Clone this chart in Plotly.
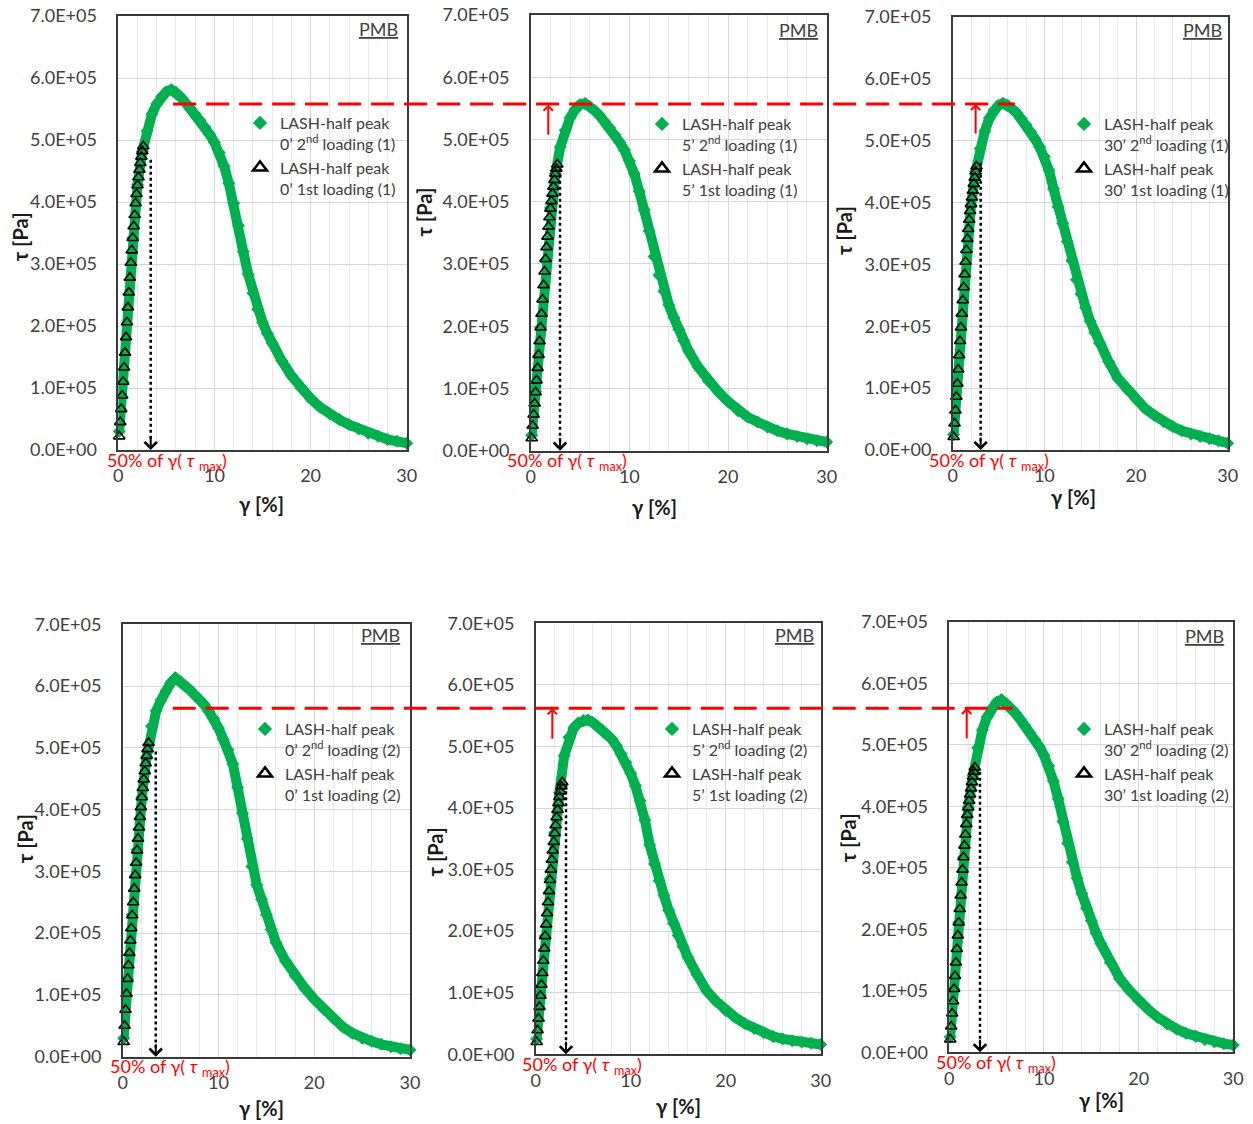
import plotly.graph_objects as go

# ---------------- data (tau values in units of 1E+05 Pa) ----------------
gamma_tick_step = 10
tau_tickvals = [0, 1e5, 2e5, 3e5, 4e5, 5e5, 6e5, 7e5]
tau_ticktext = ["0.0E+00", "1.0E+05", "2.0E+05", "3.0E+05", "4.0E+05", "5.0E+05", "6.0E+05", "7.0E+05"]

rest_times = ["0’", "5’", "30’", "0’", "5’", "30’"]
test_ids = ["(1)", "(1)", "(1)", "(2)", "(2)", "(2)"]

# 2nd loading (green diamonds): gamma [%]
g2_common = [0.1, 0.5, 1.0, 1.5, 2.0, 2.5, 3.0, 3.5, 4.0, 4.5, 5.0, 5.5, 6.0, 6.5, 7.0, 7.5,
             8.0, 8.5, 9.0, 9.5, 10.0, 10.5, 11.0, 11.5, 12.0, 12.5, 13.0, 13.5, 14.0, 14.5,
             15.0, 15.5, 16.0, 17.0, 18.0, 19.0, 20.0, 21.0, 22.0, 23.0, 24.0, 25.0, 26.0,
             27.0, 28.0, 29.0, 30.0]
p1_2nd_tau = [0.30, 1.10, 2.28, 3.42, 4.28, 4.82, 5.15, 5.42, 5.58, 5.70, 5.78, 5.81, 5.77, 5.69,
              5.60, 5.51, 5.42, 5.32, 5.21, 5.09, 4.96, 4.80, 4.58, 4.30, 3.98, 3.62, 3.20, 2.84,
              2.53, 2.27, 2.06, 1.88, 1.72, 1.44, 1.20, 1.00, 0.83, 0.69, 0.58, 0.49, 0.41, 0.34,
              0.27, 0.22, 0.17, 0.14, 0.11]
p2_2nd_tau = [0.25, 0.95, 1.98, 3.05, 3.90, 4.45, 4.88, 5.15, 5.35, 5.48, 5.56, 5.58, 5.53, 5.46,
              5.38, 5.29, 5.19, 5.08, 4.96, 4.83, 4.66, 4.45, 4.17, 3.87, 3.53, 3.12, 2.82, 2.56,
              2.34, 2.14, 1.95, 1.77, 1.60, 1.34, 1.12, 0.95, 0.79, 0.64, 0.54, 0.46, 0.38, 0.32,
              0.27, 0.23, 0.19, 0.16, 0.14]
p3_2nd_tau = [0.25, 1.05, 2.18, 3.20, 3.95, 4.50, 4.87, 5.15, 5.36, 5.49, 5.57, 5.60, 5.57, 5.51,
              5.44, 5.35, 5.25, 5.14, 5.02, 4.89, 4.74, 4.52, 4.22, 3.93, 3.66, 3.37, 3.06, 2.75,
              2.52, 2.30, 2.08, 1.90, 1.73, 1.43, 1.16, 0.98, 0.82, 0.67, 0.56, 0.46, 0.38, 0.31,
              0.26, 0.22, 0.18, 0.15, 0.11]
p4_2nd_tau = [0.30, 1.25, 2.30, 3.35, 4.20, 4.85, 5.35, 5.60, 5.77, 5.92, 6.05, 6.13, 6.08, 6.01,
              5.94, 5.86, 5.79, 5.70, 5.59, 5.47, 5.32, 5.14, 4.97, 4.74, 4.36, 3.94, 3.53, 3.08,
              2.78, 2.55, 2.30, 2.06, 1.85, 1.55, 1.31, 1.11, 0.93, 0.77, 0.62, 0.48, 0.38, 0.30,
              0.25, 0.20, 0.16, 0.13, 0.11]
p5_2nd_tau = [0.25, 0.95, 1.92, 2.85, 3.60, 4.25, 4.85, 5.15, 5.30, 5.38, 5.42, 5.43, 5.39, 5.33,
              5.27, 5.20, 5.12, 5.01, 4.88, 4.74, 4.56, 4.36, 4.12, 3.80, 3.40, 3.09, 2.82, 2.58,
              2.34, 2.13, 1.93, 1.75, 1.58, 1.29, 1.03, 0.86, 0.71, 0.60, 0.50, 0.42, 0.35, 0.29,
              0.25, 0.22, 0.20, 0.18, 0.16]
p6_2nd_tau = [0.25, 1.03, 2.11, 3.17, 3.98, 4.50, 4.95, 5.24, 5.45, 5.59, 5.69, 5.73, 5.67, 5.60,
              5.51, 5.41, 5.31, 5.20, 5.09, 4.97, 4.83, 4.66, 4.41, 4.12, 3.75, 3.40, 3.09, 2.83,
              2.58, 2.34, 2.14, 1.94, 1.77, 1.46, 1.20, 1.01, 0.84, 0.70, 0.57, 0.46, 0.38, 0.31,
              0.26, 0.21, 0.17, 0.14, 0.12]

# 1st loading (open triangles)
g1_26 = [0.1, 0.2, 0.3, 0.4, 0.5, 0.6, 0.7, 0.8, 0.9, 1.0, 1.1, 1.2, 1.3, 1.4, 1.5, 1.6, 1.7,
         1.8, 1.9, 2.0, 2.1, 2.2, 2.3, 2.4, 2.5, 2.6]
g1_27 = g1_26 + [2.7]
g1_28 = g1_27 + [2.8]
p1_1st_tau = [0.22, 0.45, 0.66, 0.88, 1.10, 1.33, 1.57, 1.82, 2.06, 2.30, 2.54, 2.78, 3.02, 3.22,
              3.42, 3.61, 3.79, 3.98, 4.13, 4.27, 4.40, 4.52, 4.63, 4.73, 4.82, 4.90]
p2_1st_tau = [0.20, 0.40, 0.58, 0.76, 0.94, 1.13, 1.33, 1.54, 1.76, 1.98, 2.20, 2.43, 2.66, 2.88,
              3.08, 3.27, 3.44, 3.60, 3.75, 3.89, 4.01, 4.13, 4.24, 4.35, 4.45, 4.53, 4.60]
p3_1st_tau = [0.21, 0.43, 0.64, 0.86, 1.07, 1.30, 1.53, 1.76, 1.98, 2.20, 2.42, 2.63, 2.84, 3.04,
              3.23, 3.41, 3.57, 3.72, 3.86, 3.97, 4.08, 4.19, 4.30, 4.40, 4.50, 4.58]
p4_1st_tau = [0.24, 0.50, 0.76, 1.02, 1.26, 1.48, 1.68, 1.88, 2.08, 2.29, 2.50, 2.72, 2.94, 3.14,
              3.34, 3.53, 3.71, 3.88, 4.04, 4.20, 4.35, 4.49, 4.62, 4.75, 4.87, 4.98, 5.08]
p5_1st_tau = [0.20, 0.39, 0.58, 0.77, 0.95, 1.13, 1.32, 1.52, 1.72, 1.92, 2.11, 2.29, 2.47, 2.65,
              2.83, 3.00, 3.16, 3.31, 3.45, 3.59, 3.72, 3.85, 3.97, 4.08, 4.18, 4.27, 4.35, 4.42]
p6_1st_tau = [0.21, 0.42, 0.63, 0.83, 1.03, 1.24, 1.46, 1.68, 1.90, 2.11, 2.33, 2.55, 2.76, 2.97,
              3.17, 3.36, 3.54, 3.71, 3.86, 3.98, 4.09, 4.19, 4.29, 4.39, 4.48, 4.56, 4.63]

# 50% of gamma(tau_max): dotted arrow gamma and its top tau (1E+05 Pa)
half_gamma = [3.37, 2.97, 3.05, 3.45, 3.19, 3.24]
half_top_tau = [4.68, 4.53, 4.64, 4.94, 4.37, 4.56]
# reference tau_max level of 0' (dashed red line), 1E+05 Pa
ref_level_tau = [5.58, 5.64]
# red upward arrows (panels 2,3,5,6): gamma, start tau, tip tau
rise_gamma = [None, 1.78, 2.5, None, 1.75, 1.84]
rise_from_tau = [None, 5.05, 5.09, None, 5.10, 5.08]
rise_to_tau = [None, 5.56, 5.59, None, 5.62, 5.60]

# ---------------- assembly ----------------
panel_g2 = [g2_common] * 6
panel_t2 = [p1_2nd_tau, p2_2nd_tau, p3_2nd_tau, p4_2nd_tau, p5_2nd_tau, p6_2nd_tau]
panel_g1 = [g1_26, g1_27, g1_26, g1_27, g1_28, g1_27]
panel_t1 = [p1_1st_tau, p2_1st_tau, p3_1st_tau, p4_1st_tau, p5_1st_tau, p6_1st_tau]

W, H = 1253, 1124
OFF = 8  # default page margin of the html body
FONT = "Lato, 'Open Sans', 'DejaVu Sans', sans-serif"
GREEN = "#00B050"
TXT = "#404040"

# plot-area boxes in page pixels: left, right, top, bottom
boxes = [(118.3, 406.7, 16.0, 450.0), (530.7, 826.7, 15.0, 450.7), (952.7, 1227.7, 16.7, 450.0),
         (122.7, 410.0, 624.3, 1056.7), (535.7, 820.7, 623.3, 1054.3), (949.3, 1233.3, 621.7, 1052.3)]
ytitle_dx = [98, 107, 108, 98, 101, 101]
ytitle_dy = [4, -21, -3, -2, 13, 1]
xtitle_dx = [-1, -24, -17, -5, 0, 10]
xtitle_dy = [54, 56, 47, 51, 52, 48]
pmb_dx = [28, 28, 25, 30, 26, 29]
pmb_dy = [13, 15, 13, 11, 12, 14]
note_gamma = [5.03, 3.7, 3.93, 4.99, 4.84, 4.88]
legend_px = [(240, 106), (642, 107), (1064, 107), (245, 712), (652, 712), (1064, 712)]


def px_x(p):
    return (p - OFF) / W


def px_y(p):
    return 1 - (p - OFF) / H


fig = go.Figure()
layout = dict(width=W, height=H, margin=dict(l=0, r=0, t=0, b=0, autoexpand=False),
              paper_bgcolor="white", plot_bgcolor="white", showlegend=True,
              font=dict(family=FONT, color=TXT))
annotations = []
shapes = []

for i in range(6):
    sfx = "" if i == 0 else str(i + 1)
    xa, ya = "x" + sfx, "y" + sfx
    L, R, T, B = boxes[i]
    layout["xaxis" + sfx] = dict(
        domain=[px_x(L), px_x(R)], range=[0, 30], anchor=ya, tick0=0, dtick=gamma_tick_step,
        automargin=False, ticklabeloverflow="allow",
        showgrid=True, gridcolor="#d6d6d6", gridwidth=1,
        minor=dict(dtick=2, tick0=0, showgrid=True, gridcolor="#e9e9e9", gridwidth=1),
        showline=True, linecolor="#3a3a3a", linewidth=1.5, mirror=True, zeroline=False,
        ticks="", tickfont=dict(family=FONT, size=18, color=TXT), ticklabelstandoff=9)
    layout["yaxis" + sfx] = dict(
        domain=[px_y(B), px_y(T)], range=[0, 7e5], anchor=xa, automargin=False,
        ticklabeloverflow="allow",
        tickmode="array", tickvals=tau_tickvals, ticktext=tau_ticktext,
        showgrid=True, gridcolor="#d6d6d6", gridwidth=1,
        showline=True, linecolor="#3a3a3a", linewidth=1.5, mirror=True, zeroline=False,
        ticks="", tickfont=dict(family=FONT, size=18, color=TXT), ticklabelstandoff=16)
    leg = "legend" if i == 0 else "legend" + str(i + 1)
    lx, ly = legend_px[i]
    layout[leg] = dict(x=px_x(lx), y=px_y(ly), xanchor="left", yanchor="top",
                       bgcolor="rgba(0,0,0,0)", borderwidth=0, valign="top",
                       tracegroupgap=0, itemwidth=30,
                       font=dict(family=FONT, size=16, color=TXT))

    g2 = panel_g2[i]
    t2 = [v * 1e5 for v in panel_t2[i]]
    g1 = panel_g1[i]
    t1 = [v * 1e5 for v in panel_t1[i]]
    # green band (2nd loading)
    fig.add_trace(go.Scatter(x=g2, y=t2, mode="lines", xaxis=xa, yaxis=ya,
                             line=dict(color=GREEN, width=10), showlegend=False,
                             hoverinfo="skip", cliponaxis=False))
    fig.add_trace(go.Scatter(x=g2, y=t2, mode="markers", xaxis=xa, yaxis=ya,
                             marker=dict(symbol="diamond", color=GREEN, size=10),
                             showlegend=False, cliponaxis=False))
    # 1st loading triangles
    fig.add_trace(go.Scatter(x=g1, y=t1, mode="markers", xaxis=xa, yaxis=ya,
                             marker=dict(symbol="triangle-up-open", color="black", size=10,
                                         line=dict(width=1.6, color="black")),
                             showlegend=False, cliponaxis=False))
    # legend entries
    fig.add_trace(go.Scatter(x=[None], y=[None], mode="markers", xaxis=xa, yaxis=ya,
                             marker=dict(symbol="diamond", color=GREEN, size=11),
                             name="LASH-half peak<br>" + rest_times[i] + " 2<sup>nd</sup> loading " + test_ids[i],
                             legend=leg))
    fig.add_trace(go.Scatter(x=[None], y=[None], mode="markers", xaxis=xa, yaxis=ya,
                             marker=dict(symbol="triangle-up-open", color="black", size=12,
                                         line=dict(width=2.6, color="black")),
                             name="LASH-half peak<br>" + rest_times[i] + " 1st loading " + test_ids[i],
                             legend=leg))

    # dotted arrow to 50% of gamma(tau_max)
    shapes.append(dict(type="line", xref=xa, yref=ya, x0=half_gamma[i], x1=half_gamma[i],
                       y0=half_top_tau[i] * 1e5, y1=0.15e5,
                       line=dict(color="black", width=2.5, dash="dot")))
    annotations.append(dict(xref=xa, yref=ya, x=half_gamma[i], y=0, ax=0, ay=-14, text="",
                            showarrow=True, arrowhead=4, arrowsize=1.2, arrowwidth=2,
                            arrowcolor="black", standoff=0))
    # red upward arrows
    if rise_gamma[i] is not None:
        annotations.append(dict(xref=xa, yref=ya, axref=xa, ayref=ya,
                                x=rise_gamma[i], y=rise_to_tau[i] * 1e5,
                                ax=rise_gamma[i], ay=rise_from_tau[i] * 1e5, text="",
                                showarrow=True, arrowhead=4, arrowsize=0.9, arrowwidth=2,
                                arrowcolor="red", standoff=0))
    # note below axis
    annotations.append(dict(xref=xa, yref=ya, x=note_gamma[i], y=0, yshift=-11,
                            xanchor="center", yanchor="middle", showarrow=False,
                            text="50% of γ( <i>τ</i> <sub>max</sub>)",
                            font=dict(family=FONT, size=18, color="red")))
    # PMB label
    annotations.append(dict(xref=xa + " domain", yref=ya + " domain", x=1, y=1,
                            xshift=-pmb_dx[i], yshift=-pmb_dy[i], xanchor="center",
                            yanchor="middle", showarrow=False, text="<u>PMB</u>",
                            font=dict(family=FONT, size=18, color=TXT)))
    # axis titles
    annotations.append(dict(xref=xa + " domain", yref=ya + " domain", x=0, y=0.5,
                            xshift=-ytitle_dx[i], yshift=-ytitle_dy[i], xanchor="center",
                            yanchor="middle", showarrow=False, textangle=-90,
                            text="<b>τ [Pa]</b>", font=dict(family=FONT, size=20, color="#1a1a1a")))
    annotations.append(dict(xref=xa + " domain", yref=ya + " domain", x=0.5, y=0,
                            xshift=xtitle_dx[i], yshift=-xtitle_dy[i], xanchor="center",
                            yanchor="middle", showarrow=False,
                            text="<b>γ [%]</b>", font=dict(family=FONT, size=20, color="#1a1a1a")))

# dashed red reference lines (level of tau_max of the 0' test) across each row
shapes.append(dict(type="line", xref="x domain", yref="y", x0=0.19, x1=3.109,
                   y0=ref_level_tau[0] * 1e5, y1=ref_level_tau[0] * 1e5, layer="above",
                   line=dict(color="red", width=3, dash="23px,10px")))
shapes.append(dict(type="line", xref="x4 domain", yref="y4", x0=0.174, x1=3.098,
                   y0=ref_level_tau[1] * 1e5, y1=ref_level_tau[1] * 1e5, layer="above",
                   line=dict(color="red", width=3, dash="23px,10px")))

layout["annotations"] = annotations
layout["shapes"] = shapes
fig.update_layout(**layout)
fig.write_html("out.html")
